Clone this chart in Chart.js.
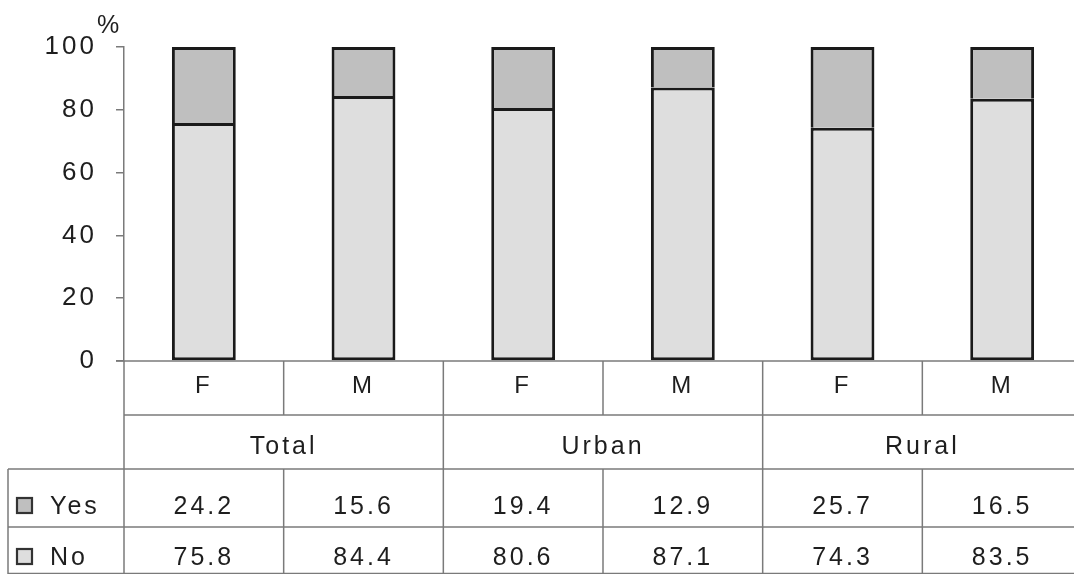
<!DOCTYPE html>
<html>
<head>
<meta charset="utf-8">
<script src="https://cdn.jsdelivr.net/npm/chart.js@4/dist/chart.umd.min.js"></script>
<style>
html,body{margin:0;padding:0;background:#fff;overflow:hidden;width:1074px;height:574px;}
canvas{display:block;}
</style>
</head>
<body>
<canvas id="c" width="1082" height="574"></canvas>
<script>
const categories = ['F', 'M', 'F', 'M', 'F', 'M'];
const groups = ['Total', 'Urban', 'Rural'];
const seriesNames = ['Yes', 'No'];
const yesValues = [24.2, 15.6, 19.4, 12.9, 25.7, 16.5];
const noValues = [75.8, 84.4, 80.6, 87.1, 74.3, 83.5];
const yTicks = [0, 20, 40, 60, 80, 100];
const unitLabel = '%';

const FONT = "'Liberation Sans', Arial, sans-serif";
const TEXT = '#1e1e1e';
const LINE = '#7a7a7a';
const YES_COLOR = '#bfbfbf';
const NO_COLOR = '#dedede';
const BORDER = '#1a1a1a';
const SPACING = '3px';

const spacingPlugin = {
  id: 'spacingPlugin',
  beforeDraw(chart) { chart.ctx.letterSpacing = SPACING; }
};

const tablePlugin = {
  id: 'tablePlugin',
  afterDraw(chart) {
    const ctx = chart.ctx;
    const xs = chart.scales.x;
    const ca = chart.chartArea;
    const n = categories.length;
    const colW = (ca.right - ca.left) / n;
    const edges = [];
    for (let i = 0; i < n; i++) edges.push(xs.getPixelForValue(i) - colW / 2);
    edges.push(ca.right);
    const y0 = ca.bottom;
    const r1 = y0 + 54, r2 = r1 + 54, r3 = r2 + 58, r4 = chart.height;
    const leftEdge = 8;

    ctx.save();
    ctx.letterSpacing = SPACING;
    ctx.strokeStyle = LINE;
    ctx.lineWidth = 1.5;
    const hline = (x1, x2, y) => { ctx.beginPath(); ctx.moveTo(x1, y); ctx.lineTo(x2, y); ctx.stroke(); };
    const vline = (x, y1, y2) => { ctx.beginPath(); ctx.moveTo(x, y1); ctx.lineTo(x, y2); ctx.stroke(); };

    hline(ca.left - 8, ca.right, y0);
    hline(ca.left, ca.right, r1);
    hline(leftEdge, ca.right, r2);
    hline(leftEdge, ca.right, r3);
    hline(leftEdge, ca.right, r4 - 0.5);
    vline(leftEdge, r2, r4);
    for (let i = 0; i < n; i++) {
      vline(edges[i], y0, r1);
      vline(edges[i], r2, r4);
      if (i % 2 === 0) vline(edges[i], r1, r2);
    }

    ctx.fillStyle = TEXT;
    ctx.textAlign = 'center';
    ctx.textBaseline = 'middle';
    ctx.font = '24px ' + FONT;
    for (let i = 0; i < n; i++) {
      const cx = xs.getPixelForValue(i);
      ctx.fillText(categories[i], cx, y0 + 25);
    }
    ctx.font = '25px ' + FONT;
    for (let i = 0; i < n; i++) {
      const cx = xs.getPixelForValue(i);
      ctx.fillText(yesValues[i].toFixed(1), cx, r2 + 38);
      ctx.fillText(noValues[i].toFixed(1), cx, r3 + 31);
    }
    for (let g = 0; g < groups.length; g++) {
      const cx = (edges[2 * g] + edges[2 * g + 2]) / 2;
      ctx.fillText(groups[g], cx, r1 + 32);
    }

    // row labels with legend boxes
    const rows = [[seriesNames[0], YES_COLOR, r2 + 37], [seriesNames[1], NO_COLOR, r3 + 30]];
    ctx.textAlign = 'left';
    rows.forEach(([label, col, cy]) => {
      ctx.fillStyle = col;
      ctx.fillRect(17, cy - 8, 15, 15);
      ctx.strokeStyle = '#333';
      ctx.lineWidth = 2.2;
      ctx.strokeRect(17, cy - 8, 15, 15);
      ctx.fillStyle = TEXT;
      ctx.fillText(label, 50, cy + 1);
    });

    // unit label
    ctx.letterSpacing = '0px';
    ctx.textAlign = 'center';
    ctx.font = '25px ' + FONT;
    ctx.fillText(unitLabel, 108, 26);
    ctx.restore();
  }
};

new Chart(document.getElementById('c'), {
  type: 'bar',
  data: {
    labels: categories,
    datasets: [
      { label: seriesNames[1], data: noValues, backgroundColor: NO_COLOR, borderColor: BORDER, borderWidth: 3, borderSkipped: false },
      { label: seriesNames[0], data: yesValues, backgroundColor: YES_COLOR, borderColor: BORDER, borderWidth: 3, borderSkipped: 'start' }
    ]
  },
  options: {
    responsive: false,
    animation: false,
    layout: { padding: { top: 47, bottom: 213, left: 0, right: 0 } },
    plugins: { legend: { display: false }, tooltip: { enabled: false }, title: { display: false } },
    datasets: { bar: { categoryPercentage: 1, barPercentage: 0.4 } },
    scales: {
      x: { display: false, stacked: true },
      y: {
        stacked: true,
        min: 0, max: 100,
        afterFit(s) { s.width = 124; },
        afterBuildTicks(s) { s.ticks = yTicks.map(v => ({ value: v })); },
        border: { display: true, color: LINE, width: 1.5 },
        grid: { drawOnChartArea: false, drawTicks: true, tickLength: 8, color: LINE, lineWidth: 1.5 },
        ticks: { padding: 19, color: TEXT, font: { family: FONT, size: 26 } }
      }
    }
  },
  plugins: [spacingPlugin, tablePlugin]
});
</script>
</body>
</html>
